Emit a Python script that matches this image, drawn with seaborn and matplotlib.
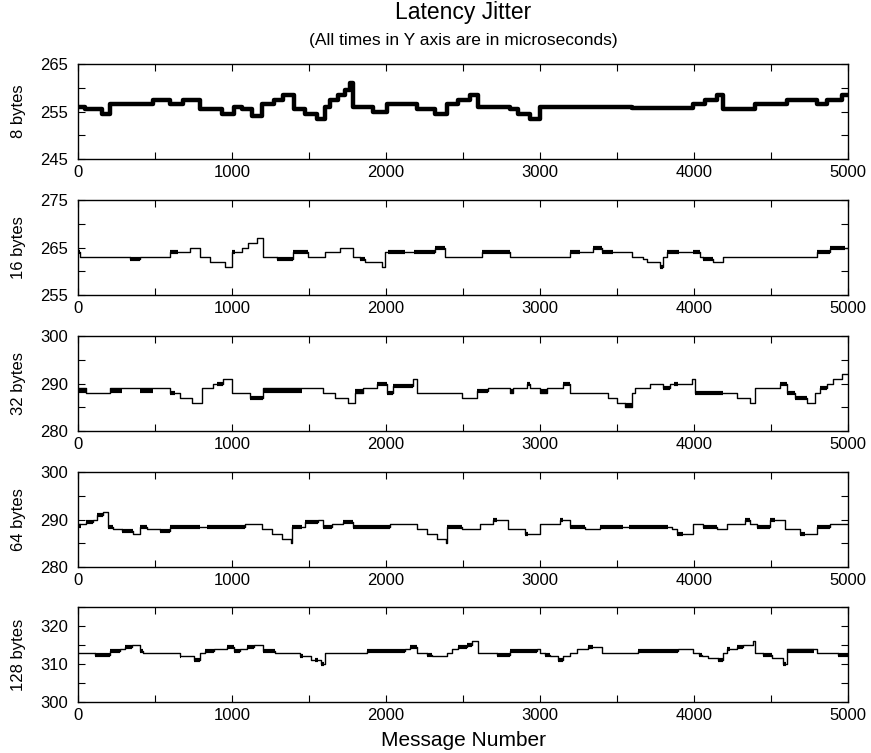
"""
Latency jitter: five stacked step plots (one per message size).
"""

import matplotlib

matplotlib.use("Agg")
import matplotlib.pyplot as plt
import pandas as pd
import seaborn as sns
from matplotlib.ticker import FixedLocator, MultipleLocator

# ---- data (step starts / levels, microseconds) ----
b8_x = [0, 45, 155, 208, 490, 600, 685, 790, 935, 1010, 1063, 1128, 1193, 1270,
        1334, 1400, 1474, 1550, 1604, 1637, 1691, 1734, 1765, 1788, 1918, 2005,
        2200, 2318, 2394, 2470, 2546, 2600, 2805, 2860, 2935, 3000, 3595, 3996,
        4072, 4148, 4190, 4396, 4602, 4797, 4862, 4960, 5000]
b8_y = [256, 255.5, 254.5, 256.5, 257.5, 256.5, 257.5, 255.5, 254.5, 256, 255.5,
        254, 256.5, 257.5, 258.5, 255.5, 254.5, 253.5, 256, 257.5, 258.5, 259.5,
        261, 256, 255, 256.5, 255.5, 254.5, 256.5, 257.5, 258.5, 256, 255.5,
        254.5, 253.5, 256, 255.7, 256.5, 257.5, 258.5, 255.5, 256.5, 257.5,
        256.5, 257.5, 258.5, 258.5]

b16_x = [0, 10, 338, 402, 600, 727, 792, 857, 955, 1000, 1063, 1106, 1160, 1204,
         1290, 1398, 1495, 1604, 1700, 1788, 1830, 1864, 1972, 1994, 2320, 2383,
         2622, 2805, 3195, 3346, 3400, 3595, 3671, 3693, 3780, 3800, 3823, 4040,
         4061, 4126, 4190, 4797, 4884, 5000]
b16_y = [264, 263, 262.5, 263, 264, 265, 263, 262, 261, 264, 265, 266, 267, 263,
         262.5, 264, 263, 264, 265, 263, 262.5, 262, 261, 264, 265, 263, 264, 263,
         264, 265, 264, 263, 262.5, 262, 261, 263, 264, 263, 262.5, 262, 263, 264,
         265, 265]
b16_bx0 = [0, 338, 600, 1000, 1290, 1398, 1830, 2015, 2180, 2320, 2622, 3195,
           3346, 3400, 3780, 3823, 3996, 4061, 4797, 4884]
b16_bx1 = [10, 402, 650, 1020, 1398, 1495, 1864, 2124, 2320, 2383, 2805, 3260,
           3400, 3476, 3800, 3900, 4040, 4126, 4884, 4980]
b16_by = [264, 262.5, 264, 264, 262.5, 264, 262.5, 264, 264, 265, 264, 264, 265,
          264, 261, 264, 264, 262.5, 264, 265]

b32_x = [0, 55, 208, 598, 662, 738, 803, 879, 944, 998, 1117, 1204, 1593, 1669,
         1756, 1800, 1853, 1940, 2005, 2048, 2178, 2200, 2492, 2589, 2665, 2805,
         2827, 2914, 2935, 3000, 3043, 3152, 3195, 3444, 3498, 3552, 3595, 3617,
         3714, 3801, 3845, 3985, 4007, 4277, 4364, 4396, 4559, 4602, 4656, 4732,
         4786, 4819, 4862, 4905, 4960, 5000]
b32_y = [289, 288, 289, 288, 287, 286, 289, 290, 291, 288, 287, 289, 288, 287,
         286, 288, 289, 290, 288, 289.5, 291, 288, 287, 288.5, 289, 288, 289, 290,
         289, 288, 289, 290, 288, 287, 286, 285, 288, 289, 290, 289, 290, 291, 288,
         287, 286, 289, 290, 288, 287, 286, 288, 289, 290, 291, 292, 292]
b32_bx0 = [0, 208, 403, 598, 900, 1117, 1204, 1800, 1940, 2005, 2048, 2589, 2805,
           2914, 3000, 3152, 3552, 3801, 3870, 4007, 4559, 4602, 4656, 4819]
b32_bx1 = [55, 284, 490, 630, 944, 1204, 1453, 1853, 2005, 2048, 2178, 2665, 2827,
           2935, 3043, 3195, 3595, 3845, 3895, 4190, 4602, 4656, 4732, 4862]
b32_by = [288.5, 288.5, 288.5, 288, 290, 287, 288.5, 288.5, 290, 288, 289.5,
          288.5, 288.5, 290, 288.5, 290, 285.5, 289, 290, 288, 290, 288, 287, 289]

b64_x = [0, 55, 100, 121, 165, 197, 230, 284, 360, 403, 446, 533, 598, 1085, 1193,
         1258, 1323, 1380, 1388, 1474, 1560, 1593, 1648, 1723, 1788, 2026, 2200,
         2265, 2330, 2390, 2394, 2492, 2611, 2697, 2795, 2903, 3000, 3130, 3195,
         3293, 3390, 3860, 3888, 3996, 4061, 4148, 4212, 4332, 4364, 4407, 4494,
         4591, 4688, 4797, 4884, 5000]
b64_y = [289, 289.5, 290, 291, 291.5, 288.5, 288, 287.5, 287, 288.5, 288, 287.5,
         288.5, 289, 288, 287, 286, 285, 288.5, 289.5, 290, 288.5, 289, 289.5,
         288.5, 289, 288, 287, 286, 285, 288.5, 288, 289, 290, 288, 287, 289, 290,
         288.5, 288, 288.5, 288, 287, 289, 288.5, 288, 289, 290, 289, 288.5, 290,
         288, 287, 288.5, 289, 289]
b64_bx0 = [0, 55, 121, 197, 284, 403, 533, 598, 836, 1388, 1474, 1593, 1723, 1788,
           2394, 2697, 2903, 3130, 3195, 3390, 3580, 3888, 4061, 4332, 4407, 4494,
           4688, 4797]
b64_bx1 = [22, 100, 165, 230, 360, 446, 598, 792, 1085, 1453, 1560, 1648, 1788,
           2026, 2492, 2719, 2925, 3152, 3293, 3540, 3834, 3931, 4148, 4364, 4494,
           4526, 4721, 4884]
b64_by = [288.7, 289.5, 291, 288.5, 287.5, 288.5, 287.5, 288.5, 288.5, 288.5,
          289.5, 288.5, 289.5, 288.5, 288.5, 290, 287, 290, 288.5, 288.5, 288.5,
          287, 288.5, 290, 288.5, 290, 287, 288.5]

b128_x = [0, 110, 208, 273, 306, 350, 403, 424, 660, 750, 793, 825, 880, 965, 1010,
          1052, 1096, 1140, 1204, 1280, 1440, 1515, 1580, 1604, 1875, 2124, 2156,
          2200, 2265, 2297, 2394, 2427, 2470, 2524, 2557, 2600, 2719, 2805, 2978,
          3000, 3033, 3065, 3120, 3152, 3195, 3238, 3314, 3400, 3638, 3898, 3996,
          4030, 4050, 4094, 4158, 4190, 4212, 4277, 4320, 4380, 4396, 4450, 4504,
          4580, 4602, 4797, 4938, 5000]
b128_y = [313, 312.5, 313.5, 314, 314.5, 315, 313.5, 313, 312, 311, 313, 313.5,
          314, 314.5, 313.5, 314, 314.5, 315, 313.5, 313, 312, 311, 310, 313, 313.5,
          314, 314.5, 313, 312.5, 312, 313, 314, 314.5, 315, 316, 313, 312.5, 313.5,
          314, 313, 312.5, 312, 311, 312, 313, 314, 314.5, 313, 313.5, 314, 313,
          312.5, 312, 311.5, 311, 313, 314, 314.5, 315, 316, 313, 312.5, 311.5, 310,
          314, 313, 312.5, 312.5]
b128_bx0 = [110, 208, 306, 403, 660, 750, 825, 965, 1010, 1096, 1204, 1440, 1537,
            1580, 1875, 2156, 2265, 2470, 2524, 2719, 2805, 3033, 3120, 3314, 3638,
            4030, 4158, 4212, 4277, 4450, 4580, 4602, 4938]
b128_bx1 = [208, 273, 350, 424, 670, 793, 880, 1010, 1052, 1140, 1280, 1462, 1560,
            1600, 2124, 2200, 2297, 2524, 2557, 2805, 2978, 3065, 3152, 3346, 3898,
            4050, 4190, 4234, 4320, 4504, 4600, 4780, 5000]
b128_by = [312.5, 313.5, 314.5, 313.5, 312, 311, 313.5, 314.5, 313.5, 314.5, 313.5,
           312, 311, 310, 313.5, 314.5, 312.5, 314.5, 315, 312.5, 313.5, 312.5, 311,
           314.5, 313.5, 312.5, 311, 314, 314.5, 312.5, 310, 313.5, 312.5]

size_labels = ["8 bytes", "16 bytes", "32 bytes", "64 bytes", "128 bytes"]
y_limits = [(245, 265), (255, 275), (280, 300), (280, 300), (300, 325)]

panels = [
    (b8_x, b8_y, [], [], []),
    (b16_x, b16_y, b16_bx0, b16_bx1, b16_by),
    (b32_x, b32_y, b32_bx0, b32_bx1, b32_by),
    (b64_x, b64_y, b64_bx0, b64_bx1, b64_by),
    (b128_x, b128_y, b128_bx0, b128_bx1, b128_by),
]

# ---- style ----
sns.set_style("ticks")
plt.rcParams["font.family"] = ["Liberation Sans", "DejaVu Sans"]
plt.rcParams["text.color"] = "black"
plt.rcParams["axes.labelcolor"] = "black"

W, H = 871, 753
fig = plt.figure(figsize=(W / 100, H / 100), dpi=100)

left_px, right_px = 78, 848
tops_px = [64, 200, 336, 472, 607]
height_px = 95

for i, (xs, ys, bx0, bx1, by) in enumerate(panels):
    top = tops_px[i]
    ax = fig.add_axes([left_px / W, 1 - (top + height_px) / H,
                       (right_px - left_px) / W, height_px / H])

    df = pd.DataFrame({"msg": xs, "lat": ys})
    lw = 3.2 if i == 0 else 1.0
    sns.lineplot(data=df, x="msg", y="lat", drawstyle="steps-post",
                 color="black", linewidth=lw, estimator=None, ax=ax)
    if bx0:
        ax.hlines(by, bx0, bx1, colors="black", linewidth=3.0)

    lo, hi = y_limits[i]
    ax.set_xlim(0, 5000)
    ax.set_ylim(lo, hi)
    ax.xaxis.set_major_locator(MultipleLocator(1000))
    ax.xaxis.set_minor_locator(MultipleLocator(500))
    ax.yaxis.set_major_locator(FixedLocator(list(range(lo, hi + 1, 10))))
    ax.yaxis.set_minor_locator(FixedLocator(list(range(lo + 5, hi + 1, 10))))
    ax.tick_params(which="both", direction="in", top=True, right=True,
                   length=5, width=0.8, color="black")
    ax.tick_params(axis="both", labelsize=12, labelcolor="black")
    ax.tick_params(axis="y", pad=7)
    ax.tick_params(axis="x", pad=4)
    for sp in ax.spines.values():
        sp.set_linewidth(1.0)
        sp.set_color("black")

    ax.set_xlabel("")
    ax.set_ylabel(size_labels[i], fontsize=12)
    ax.yaxis.set_label_coords(-(left_px - 26) / (right_px - left_px), 0.5)

cx = (left_px + right_px) / 2 / W
fig.text(cx, 1 - 13 / H, "Latency Jitter", ha="center", va="center", fontsize=16.5)
fig.text(cx, 1 - 41 / H, "(All times in Y axis are in microseconds)",
         ha="center", va="center", fontsize=12.5)
fig.text(cx, 1 - 741 / H, "Message Number", ha="center", va="center", fontsize=15)

fig.savefig("out.png", dpi=100)
